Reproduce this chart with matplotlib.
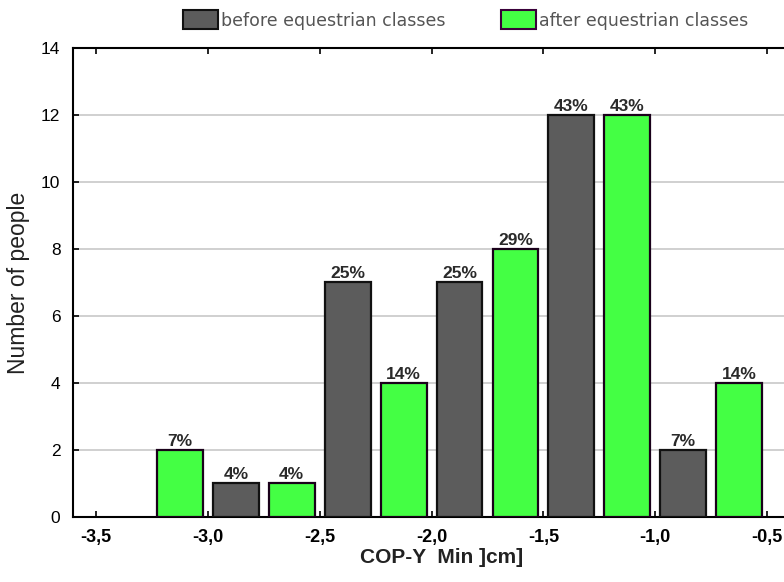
import matplotlib
matplotlib.use("Agg")
import matplotlib.pyplot as plt
from matplotlib.patches import Patch

# Data
before_x = [-2.875, -2.375, -1.875, -1.375, -0.875]
before_vals = [1, 7, 7, 12, 2]
before_pct = ["4%", "25%", "25%", "43%", "7%"]

after_x = [-3.125, -2.625, -2.125, -1.625, -1.125, -0.625]
after_vals = [2, 1, 4, 8, 12, 4]
after_pct = ["7%", "4%", "14%", "29%", "43%", "14%"]

xticks = [-3.5, -3.0, -2.5, -2.0, -1.5, -1.0, -0.5]
xtick_labels = ["-3,5", "-3,0", "-2,5", "-2,0", "-1,5", "-1,0", "-0,5"]
yticks = [0, 2, 4, 6, 8, 10, 12, 14]

plt.rcParams['font.family'] = ['Liberation Sans', 'DejaVu Sans']

fig = plt.figure(figsize=(7.84, 5.82), dpi=100)
ax = fig.add_axes([0.0931, 0.1117, 0.907, 0.806])

bw = 0.205
ax.bar(before_x, before_vals, width=bw, color="#5c5c5c", edgecolor="#111111", linewidth=1.6, zorder=3)
ax.bar(after_x, after_vals, width=bw, color="#44ff44", edgecolor="#1a001a", linewidth=1.6, zorder=3)

for x, v, p in zip(before_x, before_vals, before_pct):
    ax.text(x, v + 0.04, p, ha="center", va="bottom", fontsize=12.5, fontweight="bold", color="#2a2a2a")
for x, v, p in zip(after_x, after_vals, after_pct):
    ax.text(x, v + 0.04, p, ha="center", va="bottom", fontsize=12.5, fontweight="bold", color="#2a2a2a")

ax.set_xlim(-3.603, -0.424)
ax.set_ylim(0, 14)
ax.set_xticks(xticks)
ax.set_xticklabels(xtick_labels, fontsize=13, fontweight="bold")
ax.set_yticks(yticks)
ax.set_yticklabels([str(t) for t in yticks], fontsize=12.5)
ax.tick_params(axis="both", direction="in", length=4, width=1.2, top=True, pad=9)
ax.yaxis.grid(True, color="#d0d0d0", linewidth=1.4, zorder=0)
ax.spines["right"].set_visible(False)
for s in ["left", "bottom", "top"]:
    ax.spines[s].set_linewidth(1.5)

ax.set_ylabel("Number of people", fontsize=16.5, labelpad=8, color="#222222")
ax.set_xlabel("COP-Y  Min ]cm]", fontsize=15, fontweight="bold", color="#222222")
ax.xaxis.set_label_coords(0.518, -0.066)

handles = [Patch(facecolor="#5c5c5c", edgecolor="#111111", linewidth=1.5),
           Patch(facecolor="#44ff44", edgecolor="#3a003a", linewidth=1.5)]
leg = fig.legend(handles, ["before equestrian classes", "after equestrian classes"],
                 loc="center left", bbox_to_anchor=(0.2334, 0.9656), ncol=2, frameon=False,
                 borderpad=0, borderaxespad=0,
                 prop={"family": "DejaVu Sans", "size": 12.5}, handlelength=2.0, handleheight=1.3,
                 handletextpad=0.2, columnspacing=3.2)
for t in leg.get_texts():
    t.set_color("#555555")

plt.savefig("out.png", dpi=100)
